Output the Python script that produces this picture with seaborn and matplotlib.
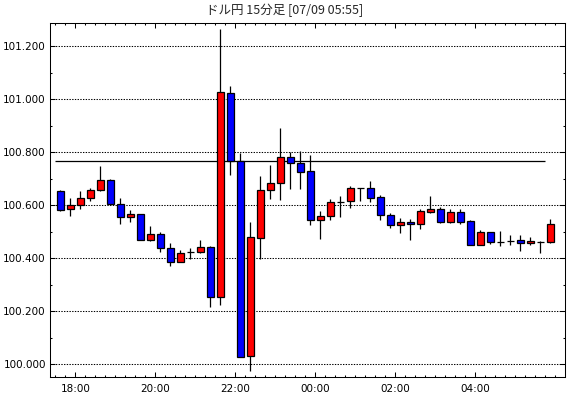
import matplotlib
matplotlib.use("Agg")
import matplotlib.pyplot as plt
import matplotlib.dates as mdates
from matplotlib.ticker import MultipleLocator, FormatStrFormatter, FixedLocator
import pandas as pd
import seaborn as sns

title = 'ドル円 15分足 [07/09 05:55]'
start_time = '2013-07-08 17:30'

# 15-minute candles
opens = [100.653, 100.585, 100.600, 100.626, 100.657, 100.694, 100.604, 100.555, 100.566, 100.468,
         100.491, 100.438, 100.386, 100.423, 100.423, 100.442, 100.253, 101.023, 100.768, 100.031,
         100.475, 100.657, 100.683, 100.781, 100.758, 100.728, 100.543, 100.558, 100.613, 100.615,
         100.664, 100.664, 100.630, 100.562, 100.525, 100.536, 100.528, 100.576, 100.587, 100.538,
         100.574, 100.540, 100.451, 100.498, 100.463, 100.465, 100.468, 100.457, 100.463, 100.460]
closes = [100.582, 100.600, 100.626, 100.657, 100.694, 100.604, 100.555, 100.566, 100.468, 100.491,
          100.438, 100.385, 100.419, 100.423, 100.442, 100.253, 101.026, 100.768, 100.026, 100.479,
          100.657, 100.684, 100.781, 100.758, 100.727, 100.543, 100.558, 100.611, 100.613, 100.664,
          100.664, 100.629, 100.562, 100.526, 100.536, 100.528, 100.577, 100.587, 100.538, 100.574,
          100.538, 100.451, 100.499, 100.463, 100.463, 100.465, 100.457, 100.464, 100.463, 100.528]
highs = [100.658, 100.628, 100.653, 100.665, 100.748, 100.698, 100.626, 100.582, 100.566, 100.521,
         100.499, 100.458, 100.431, 100.439, 100.468, 100.445, 101.264, 101.050, 100.799, 100.537,
         100.711, 100.752, 100.892, 100.802, 100.805, 100.791, 100.578, 100.624, 100.634, 100.673,
         100.666, 100.691, 100.639, 100.570, 100.551, 100.548, 100.586, 100.635, 100.592, 100.586,
         100.586, 100.543, 100.507, 100.498, 100.502, 100.487, 100.487, 100.479, 100.465, 100.547]
lows = [100.580, 100.560, 100.587, 100.617, 100.655, 100.602, 100.528, 100.536, 100.468, 100.466,
        100.425, 100.372, 100.385, 100.398, 100.419, 100.217, 100.224, 100.714, 100.026, 99.976,
        100.396, 100.625, 100.621, 100.663, 100.663, 100.526, 100.474, 100.546, 100.557, 100.591,
        100.617, 100.614, 100.546, 100.513, 100.497, 100.470, 100.512, 100.572, 100.534, 100.534,
        100.528, 100.449, 100.449, 100.455, 100.448, 100.449, 100.429, 100.449, 100.419, 100.457]
ref_price = 100.767

tick_labels = ['18:00', '20:00', '22:00', '00:00', '02:00', '04:00']
tick_times = ['2013-07-08 18:00', '2013-07-08 20:00', '2013-07-08 22:00',
              '2013-07-09 00:00', '2013-07-09 02:00', '2013-07-09 04:00']

sns.set_style('ticks')
plt.rcParams['font.family'] = ['DejaVu Sans']
plt.rcParams['axes.edgecolor'] = 'black'
plt.rcParams['axes.linewidth'] = 0.75

df = pd.DataFrame({'open': opens, 'high': highs, 'low': lows, 'close': closes})
df['time'] = pd.date_range(start_time, periods=len(df), freq='15min')
step = pd.Timedelta(minutes=15)
df['x'] = mdates.date2num(df['time'] + step / 2)
df['color'] = ['#ff0000' if c >= o else '#0000ff' for o, c in zip(df['open'], df['close'])]
df['bottom'] = df[['open', 'close']].min(axis=1)
df['height'] = (df['close'] - df['open']).abs()

fig = plt.figure(figsize=(5.7, 3.98), dpi=100)
ax = fig.add_axes([50 / 570, 1 - 376.7 / 398, 515 / 570, 354 / 398])

width = 0.66 / 96
ax.vlines(df['x'], df['low'], df['high'], color='black', lw=0.9, zorder=2)
ax.bar(df['x'], df['height'], bottom=df['bottom'], width=width, color=df['color'],
       edgecolor='black', linewidth=0.9, zorder=3)

# reference price line
ax.hlines(ref_price, mdates.date2num(df['time'].iloc[0]), mdates.date2num(df['time'].iloc[-1]),
          color='black', lw=0.9, zorder=1)

t0 = df['time'].iloc[0]
ax.set_xlim(mdates.date2num(t0 + step / 2 - 1.03 * step), mdates.date2num(t0 + step / 2 + 50.47 * step))
ax.set_ylim(99.953, 101.289)

ax.xaxis.set_major_locator(FixedLocator(mdates.date2num(pd.to_datetime(tick_times))))
ax.set_xticklabels(tick_labels)
ax.xaxis.set_minor_locator(mdates.MinuteLocator(byminute=[0, 15, 30, 45]))
ax.yaxis.set_major_locator(MultipleLocator(0.2))
ax.yaxis.set_minor_locator(MultipleLocator(0.1))
ax.yaxis.set_major_formatter(FormatStrFormatter('%.3f'))

ax.tick_params(which='both', direction='in', top=True, right=True, colors='black',
               labelsize=7.5, width=0.75)
ax.tick_params(which='major', length=3.5)
ax.tick_params(which='minor', length=1.6)
ax.tick_params(axis='y', pad=3)
ax.tick_params(axis='x', pad=5)

ax.yaxis.grid(True, which='major', color='black', lw=0.75, linestyle=(0, (1.3, 1.3)))
ax.set_axisbelow(True)

fig.text(0.5, 1 - 10.5 / 398, title, ha='center', va='center', fontsize=9,
         family=['Noto Sans CJK JP', 'DejaVu Sans'])

fig.savefig('out.png', dpi=100)
